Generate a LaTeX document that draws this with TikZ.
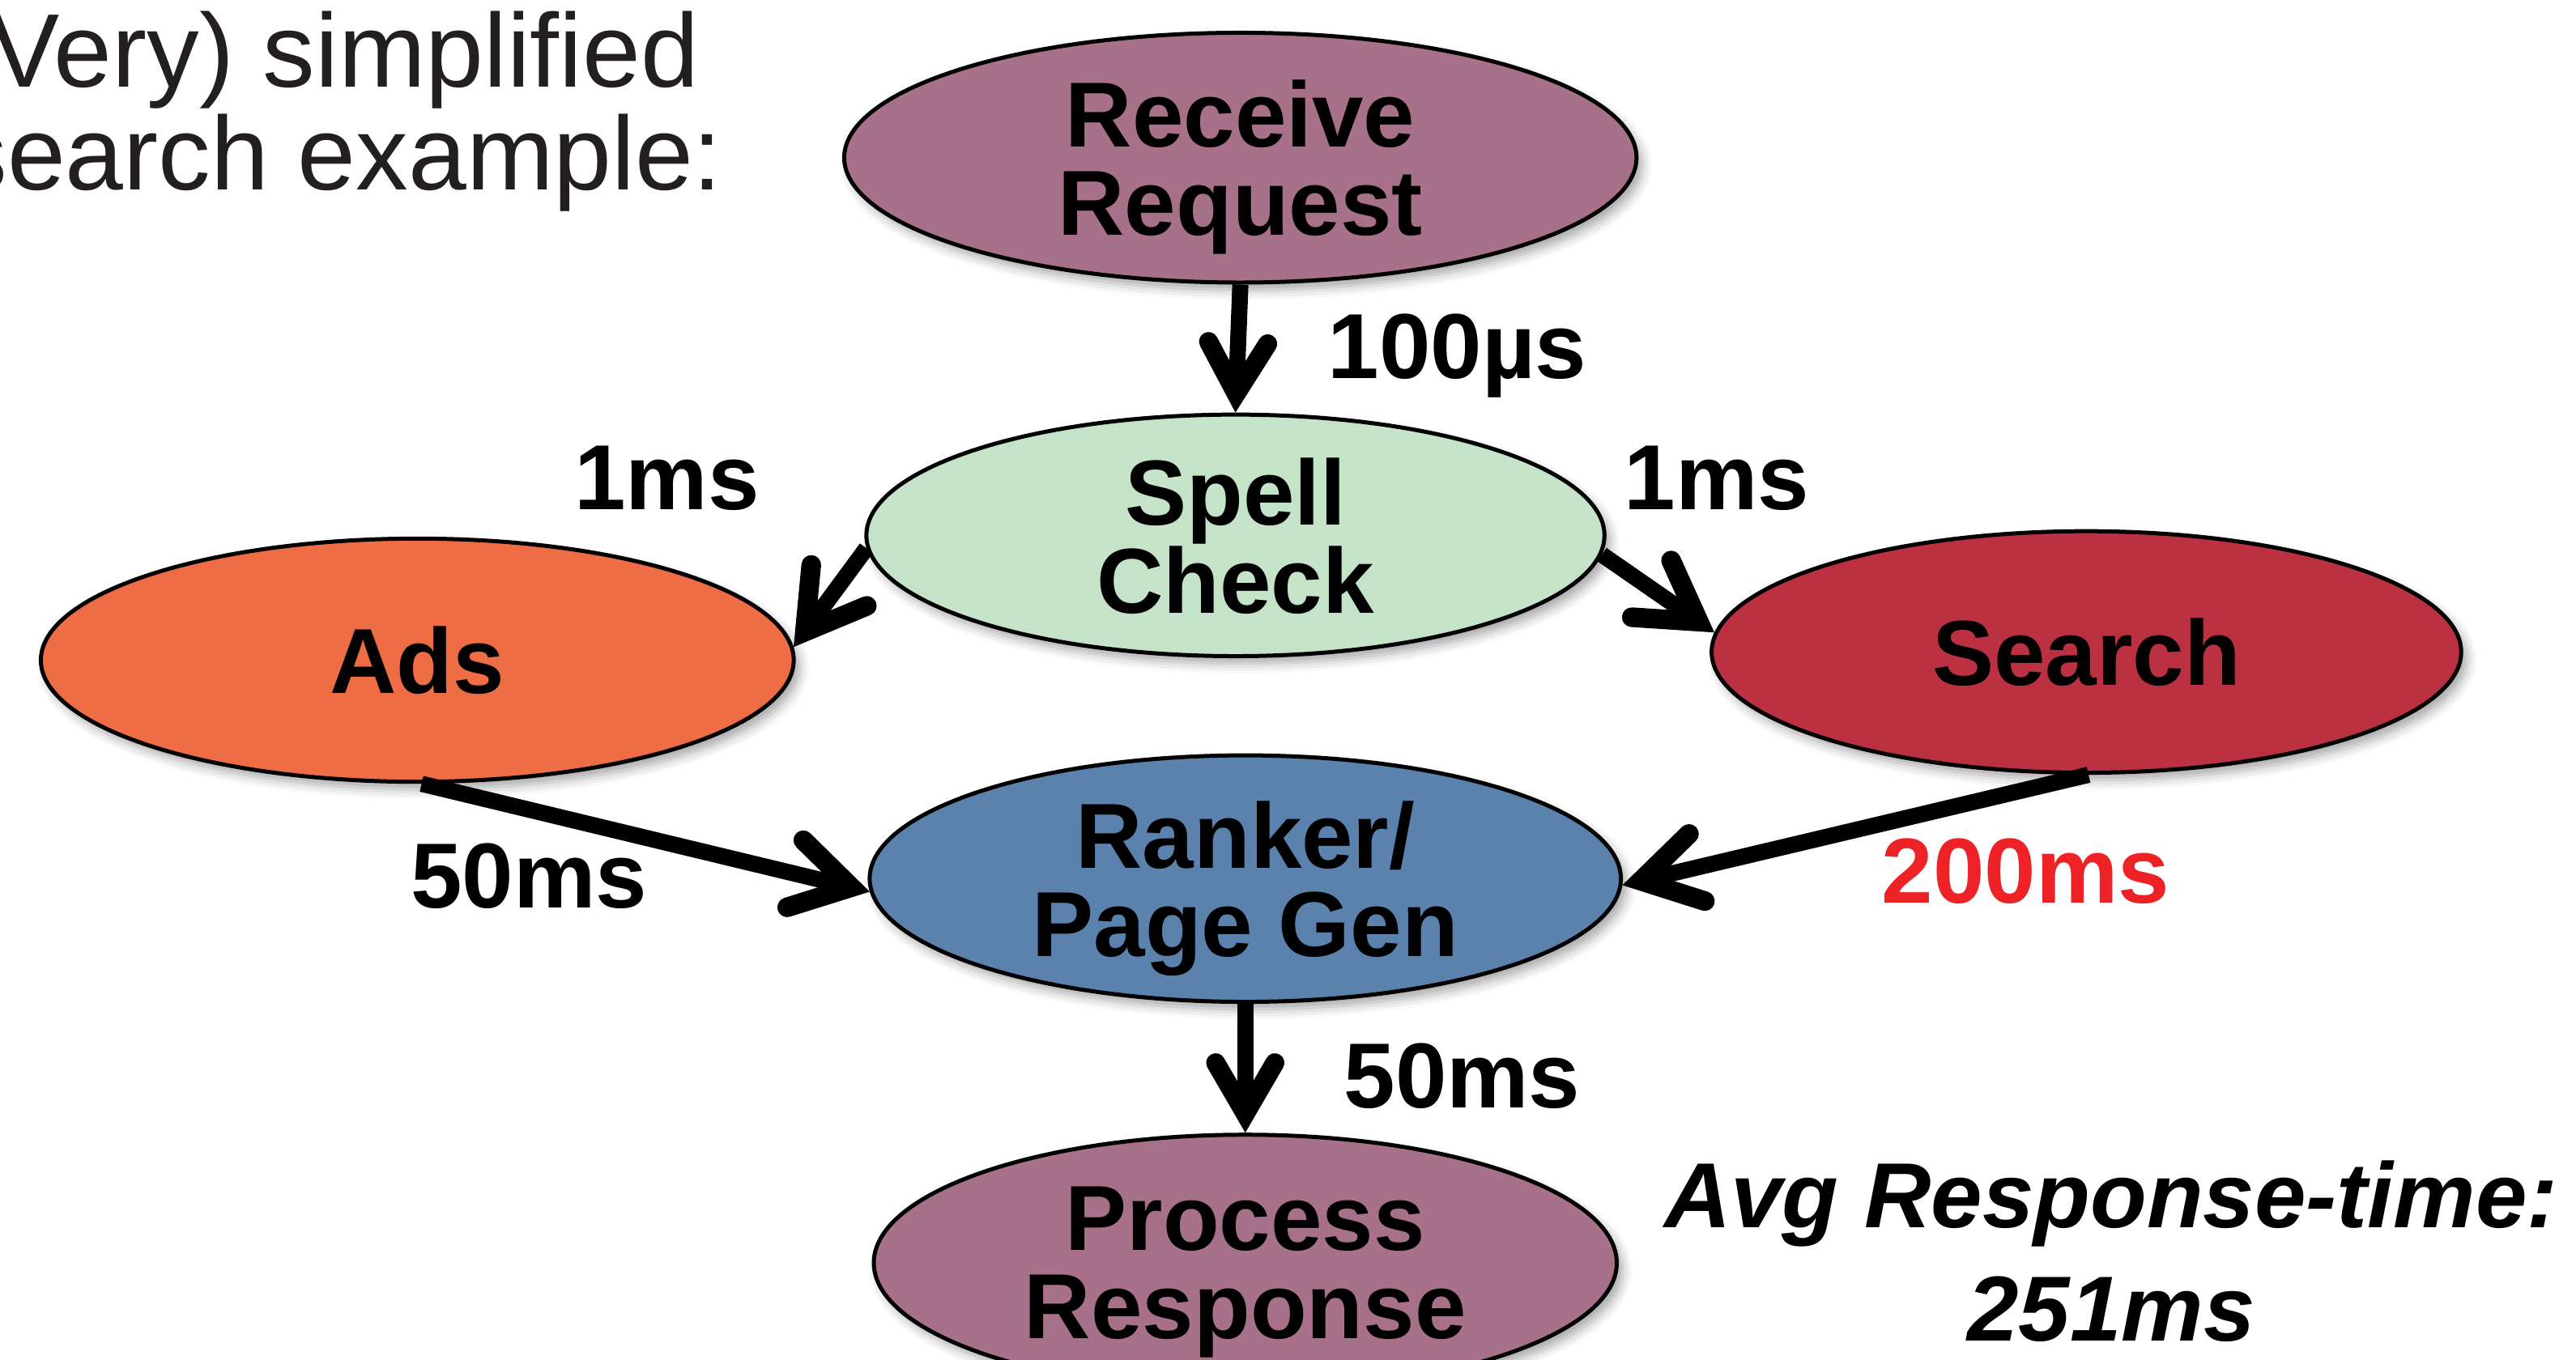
\documentclass[tikz,border=0pt]{standalone}
\usepackage{fontspec}
\setmainfont{Liberation Sans}
\usetikzlibrary{shapes.geometric,arrows.meta,shadows.blur}
\definecolor{mauve}{HTML}{A8718A}
\definecolor{mint}{HTML}{C5E3C8}
\definecolor{adsorange}{HTML}{EE6D44}
\definecolor{searchred}{HTML}{BC3142}
\definecolor{rankblue}{HTML}{5B82AC}
\definecolor{hotred}{HTML}{EC2227}
\definecolor{inkgrey}{HTML}{231F20}
\begin{document}
\begin{tikzpicture}[x=0.01cm,y=-0.01cm,
  stage/.style={ellipse, draw=black, line width=0.7pt, inner sep=0pt, inner ysep=-0.2cm,
    align=center, text=black, text depth=0pt, font=\fontsize{16}{15.3}\selectfont\bfseries,
    minimum width=4.56cm, minimum height=1.49cm,
    blur shadow={shadow xshift=0.035cm, shadow yshift=-0.045cm, shadow blur radius=0.06cm, shadow opacity=35}},
  flow/.style={line width=2.8pt,
    -{Straight Barb[length=0.31cm,width=0.36cm,line width=3.3pt,line cap=round,line join=miter]}},
  bigflow/.style={line width=2.8pt,
    -{Straight Barb[length=0.35cm,width=0.42cm,line width=3.4pt,line cap=round,line join=miter]}},
  lbl/.style={inner sep=0pt, text depth=0pt, font=\fontsize{16}{19}\selectfont\bfseries}
]
\useasboundingbox (0,0) rectangle (1568,828);
\clip (0,0) rectangle (1568,828);

% heading
\node[anchor=north west, inner sep=0pt, align=left, text=inkgrey,
      font=\fontsize{18.1}{17.8}\selectfont] (title) at (-28,6)
  {(Very) simplified\\search example:};

% processing stages
\node[stage, fill=mauve, minimum width=4.82cm, minimum height=1.52cm] (rr) at (755,96) {Receive\\Request};
\node[stage, fill=mint, minimum width=4.49cm, minimum height=1.47cm] (sc) at (752,326) {Spell\\Check};
\node[stage, fill=adsorange, minimum width=4.58cm, minimum height=1.48cm] (ads) at (254,402) {Ads};
\node[stage, fill=searchred, minimum width=4.56cm, minimum height=1.47cm] (srch) at (1270,397) {Search};
\node[stage, fill=rankblue, minimum width=4.57cm, minimum height=1.50cm] (rk) at (758,535) {Ranker/\\Page Gen};
\node[stage, fill=mauve, minimum width=4.52cm, minimum height=1.56cm] (pr) at (758,769) {Process\\Response};

% connectors
\draw[flow] (rr.south) -- (sc.north);
\draw[bigflow] (sc.182) -- (ads.2);
\draw[bigflow] (sc.-3) -- (srch.177);
\draw[bigflow] (ads.-88) -- (rk.182);
\draw[bigflow] (srch.-89) -- (rk.-1);
\draw[flow] (rk.south) -- (pr.north);

% latencies
\node[lbl] (l1) at (887,211) {100µs};
\node[lbl] (l2) at (406,291) {1ms};
\node[lbl] (l3) at (1045,291) {1ms};
\node[lbl] (l4) at (322,533) {50ms};
\node[lbl, text=hotred] (l5) at (1233,530) {200ms};
\node[lbl] (l6) at (890,655) {50ms};

% total
\node[inner sep=0pt, align=center, font=\fontsize{16}{19.6}\selectfont\bfseries\itshape] (avg) at (1285,762)
  {Avg Response-time:\\251ms};
\end{tikzpicture}
\end{document}
